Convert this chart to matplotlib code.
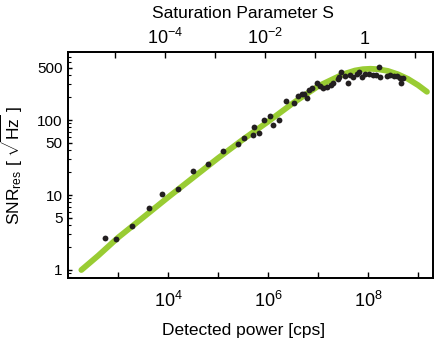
import matplotlib
matplotlib.use("Agg")
import matplotlib.pyplot as plt
from matplotlib.ticker import NullLocator, FixedLocator, NullFormatter

plt.rcParams['font.family'] = ['Liberation Sans', 'DejaVu Sans']
plt.rcParams['mathtext.fontset'] = 'custom'
plt.rcParams['mathtext.rm'] = 'Liberation Sans'
plt.rcParams['mathtext.it'] = 'Liberation Sans:italic'
plt.rcParams['mathtext.bf'] = 'Liberation Sans:bold'

# Fitted model curve
curve_power = [1.85e2, 4e2, 1e3, 3.16e3, 1e4, 3.16e4, 1e5, 3.16e5, 1e6, 3.16e6,
               1e7, 1.78e7, 3.16e7, 5.5e7, 7.94e7, 1.12e8, 1.58e8, 2.51e8, 3.98e8,
               6.31e8, 1e9, 1.51e9]
curve_snr = [1.0, 1.55, 2.7, 5.0, 9.3, 17, 31, 55, 95, 168,
             282, 339, 407, 457, 476, 482, 476, 451, 407,
             353, 292, 238]

# Measured points
meas_power = [542, 899, 1905, 4169, 7586, 1.607e4, 3.206e4, 6.397e4, 1.276e5, 2.547e5,
              3.311e5, 5.248e5, 5.012e5, 6.607e5, 8.433e5, 1.081e6, 1.259e6, 1.698e6, 2.291e6, 3.311e6,
              4.036e6, 4.72e6, 5.25e6, 5.94e6, 6.76e6, 7.48e6, 9.77e6, 1.122e7, 1.288e7, 1.514e7,
              1.82e7, 1.995e7, 2.455e7, 2.667e7, 2.951e7, 3.467e7, 4.036e7, 4.365e7, 5.012e7, 5.94e7,
              6.607e7, 7.48e7, 8.71e7, 1.047e8, 1.276e8, 1.445e8, 1.622e8, 1.778e8, 2.399e8, 2.754e8,
              3.311e8, 3.802e8, 4.266e8, 4.508e8, 4.898e8]
meas_snr = [2.65, 2.57, 3.90, 6.77, 10.3, 11.9, 20.7, 25.9, 39.0, 47.4,
            57.0, 80.0, 63.7, 67.1, 100, 112, 86.5, 101, 182, 171,
            209, 219, 224, 196, 251, 267, 316, 288, 271, 275,
            297, 314, 352, 374, 437, 383, 307, 402, 378, 411,
            443, 371, 407, 417, 398, 402, 512, 380, 386, 398,
            383, 386, 358, 307, 358]

# Axis settings
power_ticks = [1e3, 1e4, 1e5, 1e6, 1e7, 1e8, 1e9]
power_ticklabels = ['', r'$10^4$', '', r'$10^6$', '', r'$10^8$', '']
sat_ticks = [1e-5, 1e-4, 1e-3, 1e-2, 1e-1, 1, 1e1]
sat_ticklabels = ['', r'$10^{-4}$', '', r'$10^{-2}$', '', '1', '']
snr_ticks = [1, 5, 10, 50, 100, 500]
snr_ticklabels = ['1', '5', '10', '50', '100', '500']
snr_minor = [0.8, 0.9, 2, 3, 4, 6, 7, 8, 9, 20, 30, 40, 60, 70, 80, 90, 200, 300, 400, 600, 700, 800]
sat_ref_power = 8.7e7  # power at which S = 1

green = '#99cc33'
dark = '#231f20'

fig = plt.figure(figsize=(4.36, 3.42), dpi=100)
ax = fig.add_axes([68 / 436, 1 - 278 / 342, 365 / 436, 226 / 342])
ax.set_xscale('log')
ax.set_yscale('log')
xlim = (1e2, 10 ** 9.3)
ax.set_xlim(*xlim)
ax.set_ylim(10 ** -0.1067, 10 ** 2.907)

ax.plot(curve_power, curve_snr, color=green, lw=4.2, solid_capstyle='round',
        solid_joinstyle='round', zorder=1)
ax.plot(meas_power, meas_snr, 'o', color=dark, ms=4.2, mew=0, zorder=2)

ax.xaxis.set_major_locator(FixedLocator(power_ticks))
ax.set_xticklabels(power_ticklabels)
ax.xaxis.set_minor_locator(NullLocator())
ax.yaxis.set_major_locator(FixedLocator(snr_ticks))
ax.set_yticklabels(snr_ticklabels)
ax.yaxis.set_minor_locator(FixedLocator(snr_minor))
ax.yaxis.set_minor_formatter(NullFormatter())
ax.tick_params(axis='x', which='major', direction='in', length=4, width=1.0,
               labelsize=13, pad=9, top=False)
ax.tick_params(axis='y', which='major', direction='in', length=3, width=1.0,
               labelsize=11, pad=4, right=False)
ax.tick_params(axis='y', which='minor', direction='in', length=2, width=0.8, right=False)
for s in ax.spines.values():
    s.set_linewidth(1.3)

ax.set_xlabel('Detected power [cps]', fontsize=12.5)
ax.xaxis.set_label_coords(0.48, -0.2)
ax.set_ylabel(r'SNR$_{\mathrm{res}}$ [ $\sqrt{\mathrm{Hz}}$ ]', fontsize=12.5)
ax.yaxis.set_label_coords(-0.118, 0.5)

ax2 = ax.twiny()
ax2.set_xscale('log')
ax2.set_xlim(xlim[0] / sat_ref_power, xlim[1] / sat_ref_power)
ax2.xaxis.set_major_locator(FixedLocator(sat_ticks))
ax2.set_xticklabels(sat_ticklabels)
ax2.xaxis.set_minor_locator(NullLocator())
ax2.tick_params(axis='x', which='major', direction='in', length=4, width=1.0,
                labelsize=13, pad=3)
ax2.set_xlabel('Saturation Parameter S', fontsize=12.5)
ax2.xaxis.set_label_coords(0.48, 1.15)
for s in ax2.spines.values():
    s.set_linewidth(1.3)

fig.savefig('out.png', dpi=100)
